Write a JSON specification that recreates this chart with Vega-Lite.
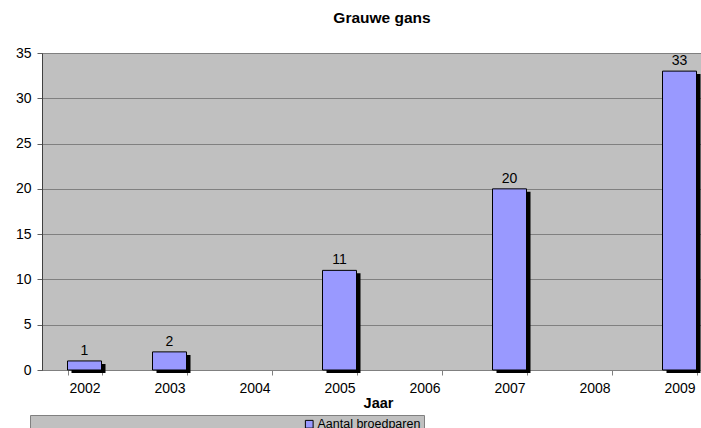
{
  "$schema": "https://vega.github.io/schema/vega-lite/v6.json",
  "autosize": {"type": "none"},
  "padding": {"left": 42, "top": 53, "right": 0, "bottom": 70},
  "width": 680,
  "height": 317,
  "background": "white",
  "title": {"text": "Grauwe gans", "font": "Liberation Sans", "fontSize": 15.5, "fontWeight": "bold", "color": "black", "anchor": "middle", "offset": 20},
  "config": {
    "font": "Liberation Sans",
    "view": {"fill": "#C0C0C0", "stroke": "#808080", "strokeWidth": 1}
  },
  "data": {"values": [
    {"jaar": "2002", "aantal": 1, "reeks": "Aantal broedparen"},
    {"jaar": "2003", "aantal": 2, "reeks": "Aantal broedparen"},
    {"jaar": "2005", "aantal": 11, "reeks": "Aantal broedparen"},
    {"jaar": "2007", "aantal": 20, "reeks": "Aantal broedparen"},
    {"jaar": "2009", "aantal": 33, "reeks": "Aantal broedparen"}
  ]},
  "encoding": {
    "x": {"field": "jaar", "type": "ordinal",
      "scale": {"domain": ["2002","2003","2004","2005","2006","2007","2008","2009"], "paddingInner": 0.6, "paddingOuter": 0.3},
      "axis": {"title": "Jaar", "labelAngle": 0, "tickBand": "extent", "labelFontSize": 14, "labelColor": "black", "labelPadding": 6, "tickSize": 5, "tickColor": "#808080", "domainColor": "#808080", "titleFontSize": 14.5, "titleFontWeight": "bold", "titleColor": "black", "titlePadding": 0, "titleX": 336, "titleY": 26}},
    "y": {"field": "aantal", "type": "quantitative",
      "scale": {"domain": [0, 35]},
      "axis": {"title": null, "values": [0,5,10,15,20,25,30,35], "labelFontSize": 14, "labelColor": "black", "labelPadding": 6, "tickSize": 5, "tickColor": "#606060", "domainColor": "#404040", "gridColor": "#808080", "gridOpacity": 1, "grid": true}}
  },
  "layer": [
    {"mark": {"type": "bar", "color": "black", "xOffset": 4, "yOffset": 3, "y2Offset": -3}},
    {"mark": {"type": "bar", "stroke": "black", "strokeWidth": 1},
      "encoding": {"color": {"field": "reeks", "type": "nominal", "scale": {"range": ["#9999FF"]},
        "legend": {"title": null, "orient": "none", "legendX": -12, "legendY": 362, "fillColor": "#C0C0C0", "strokeColor": "#808080", "padding": 3, "symbolType": "square", "symbolSize": 60, "symbolStrokeColor": "black", "symbolStrokeWidth": 1, "symbolOffset": 270, "labelFontSize": 12.5, "labelColor": "black", "labelOffset": 2}}}},
    {"mark": {"type": "text", "dy": -10, "fontSize": 14, "color": "black"},
      "encoding": {"text": {"field": "aantal", "type": "quantitative"}}}
  ]
}
